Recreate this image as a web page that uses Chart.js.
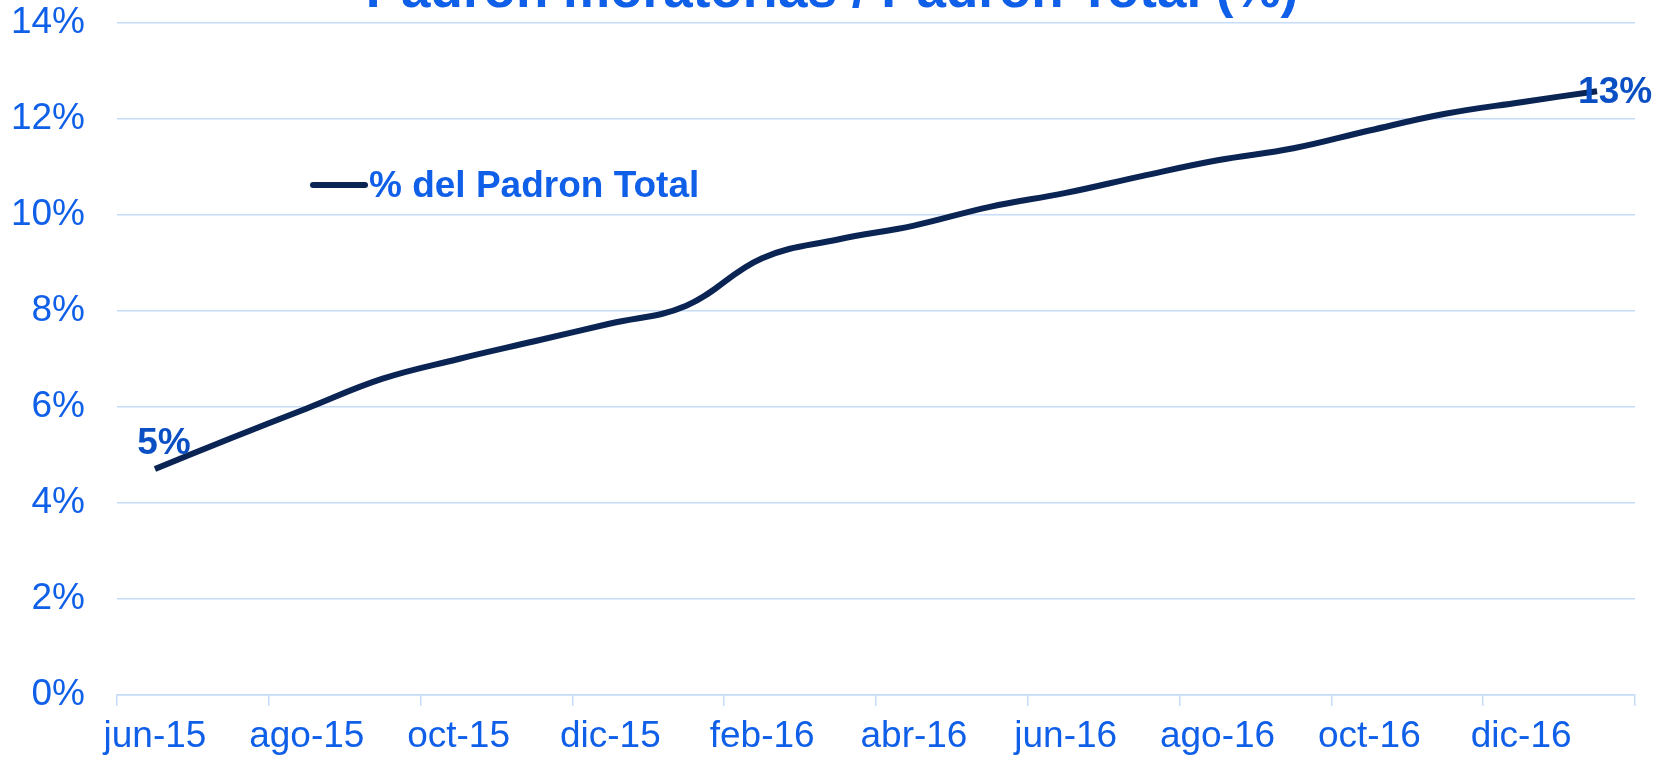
<!DOCTYPE html>
<html>
<head>
<meta charset="utf-8">
<script src="https://cdn.jsdelivr.net/npm/chart.js@4.4.0/dist/chart.umd.min.js"></script>
<style>
  body { margin: 0; background: #fff; }
  #caja { width: 1670px; height: 760px; }
</style>
</head>
<body>
<div id="caja"><canvas id="grafico-padron"></canvas></div>
<script>
// datos
var meses = ["jun-15", "jul-15", "ago-15", "sep-15", "oct-15", "nov-15", "dic-15", "ene-16",
  "feb-16", "mar-16", "abr-16", "may-16", "jun-16", "jul-16", "ago-16", "sep-16",
  "oct-16", "nov-16", "dic-16", "ene-17"];
var porcentajePadron = [4.71, 5.35, 5.97, 6.59, 7.0, 7.37, 7.74, 8.11, 9.10, 9.49,
  9.78, 10.17, 10.46, 10.81, 11.14, 11.39, 11.76, 12.11, 12.35, 12.58];
var nombreSerie = "% del Padron Total";
var tituloGrafico = "Padron moratorias / Padron Total (%)";
var puntosConEtiqueta = [0, 19];

var fuente = "'Liberation Sans', Arial, sans-serif";
var azulTexto = "#0F5FE8";
var azulEtiqueta = "#0B4FC4";
var azulLinea = "#0A2454";
var colorGrilla = "#C6DCF8";

// titulo cortado arriba, como en el original
const pluginTitulo = {
  id: "tituloCortado",
  afterDraw(chart) {
    const ctx = chart.ctx;
    ctx.save();
    ctx.font = "bold 53px " + fuente;
    ctx.fillStyle = azulTexto;
    ctx.textAlign = "center";
    ctx.textBaseline = "alphabetic";
    ctx.fillText(tituloGrafico, 832, 7);
    ctx.restore();
  }
};

// leyenda dentro del area del grafico
const pluginLeyenda = {
  id: "leyendaInterna",
  afterDraw(chart) {
    const ctx = chart.ctx;
    ctx.save();
    ctx.strokeStyle = azulLinea;
    ctx.lineWidth = 6;
    ctx.lineCap = "round";
    ctx.beginPath();
    ctx.moveTo(313, 185);
    ctx.lineTo(365, 185);
    ctx.stroke();
    ctx.font = "bold 37px " + fuente;
    ctx.fillStyle = azulTexto;
    ctx.textAlign = "left";
    ctx.textBaseline = "middle";
    ctx.fillText(chart.data.datasets[0].label, 369, 187);
    ctx.restore();
  }
};

// etiquetas de valor en el primer y ultimo punto
const pluginEtiquetas = {
  id: "etiquetasValor",
  afterDatasetsDraw(chart) {
    const ctx = chart.ctx;
    const meta = chart.getDatasetMeta(0);
    const valores = chart.data.datasets[0].data;
    ctx.save();
    ctx.font = "bold 37px " + fuente;
    ctx.fillStyle = azulEtiqueta;
    ctx.textBaseline = "middle";
    puntosConEtiqueta.forEach(function (i) {
      const pt = meta.data[i];
      const texto = Math.round(valores[i]) + "%";
      if (i === 0) {
        ctx.textAlign = "center";
        ctx.fillText(texto, pt.x + 9, pt.y - 25);
      } else {
        ctx.textAlign = "left";
        ctx.fillText(texto, pt.x - 19, pt.y + 2);
      }
    });
    ctx.restore();
  }
};

const config = {
  type: "line",
  data: {
    labels: meses,
    datasets: [{
      label: nombreSerie,
      data: porcentajePadron,
      borderColor: azulLinea,
      borderWidth: 6,
      pointRadius: 0,
      tension: 0.4,
      fill: false
    }]
  },
  options: {
    responsive: true,
    maintainAspectRatio: false,
    animation: false,
    layout: { padding: { top: 23, left: 11, right: 35, bottom: 0 } },
    plugins: {
      legend: { display: false },
      title: { display: false },
      tooltip: { enabled: false }
    },
    scales: {
      x: {
        offset: true,
        grid: {
          offset: true,
          drawOnChartArea: false,
          drawTicks: true,
          tickLength: 11,
          lineWidth: 1.5,
          color: function (c) {
            return (c.index === undefined || c.index % 2 === 0) ? colorGrilla : "rgba(0,0,0,0)";
          }
        },
        border: { display: true, color: colorGrilla, width: 1.5 },
        ticks: {
          autoSkip: false,
          maxRotation: 0,
          padding: 9,
          color: azulTexto,
          font: { family: fuente, size: 37 },
          callback: function (v, i) { return i % 2 === 0 ? meses[i] : ""; }
        },
        afterFit: function (escala) {
          escala.height = 65;
          escala.paddingLeft = 0;
          escala.paddingRight = 0;
        }
      },
      y: {
        min: 0,
        max: 14,
        grid: { color: colorGrilla, lineWidth: 1.5, drawTicks: false },
        border: { display: false },
        ticks: {
          stepSize: 2,
          padding: 32,
          color: azulTexto,
          font: { family: fuente, size: 37, lineHeight: 1.0 },
          callback: function (v) { return v + "%"; }
        },
        afterFit: function (escala) {
          escala.width = 106;
          escala.paddingTop = 0;
          escala.paddingBottom = 0;
        }
      }
    }
  },
  plugins: [pluginEtiquetas, pluginLeyenda, pluginTitulo]
};

var miGrafico = new Chart(document.getElementById("grafico-padron"), config);
</script>
</body>
</html>
